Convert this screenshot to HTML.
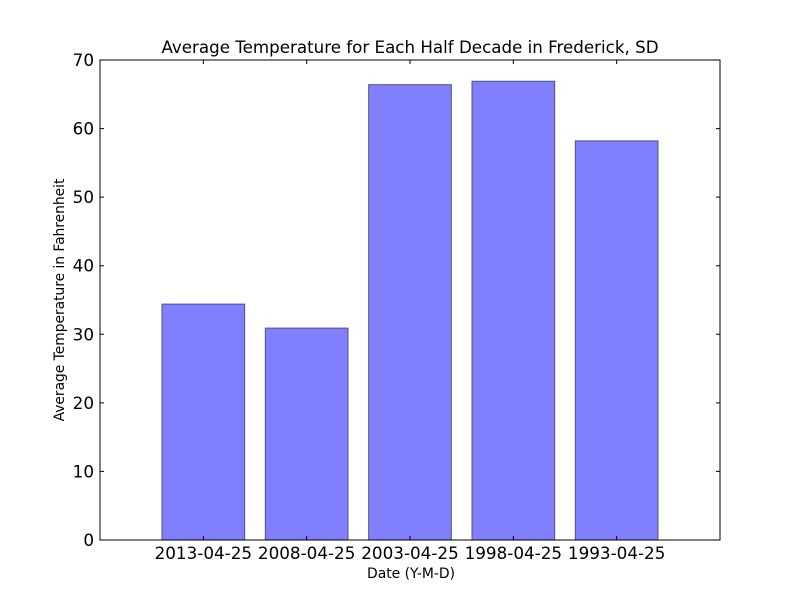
<!DOCTYPE html>
<html><head><meta charset="utf-8"><style>body{margin:0;background:#fff}svg{display:block}text{font-family:"DejaVu Sans","Liberation Sans",sans-serif}</style></head>
<body>
<svg id="chart" width="800" height="600">
<rect width="800" height="600" fill="#fff"/>
</svg>
<script>
const categories = ["2013-04-25","2008-04-25","2003-04-25","1998-04-25","1993-04-25"];
const values = [34.4, 30.9, 66.4, 66.9, 58.2];
const yTicks = [0,10,20,30,40,50,60,70];
const NS = "http://www.w3.org/2000/svg";
const svg = document.getElementById('chart');
const L=100,R=720,T=60,B=540;
const x = v => L + (v+1)/6*(R-L);
const y = v => B - v/70*(B-T);
function mk(tag, attrs, parent){const e=document.createElementNS(NS,tag);for(const k in attrs)e.setAttribute(k,attrs[k]);(parent||svg).appendChild(e);return e;}
categories.forEach((c,i)=>{
  const r=mk('rect',{x:x(i-0.4),y:y(values[i]),width:x(i+0.4)-x(i-0.4),height:B-y(values[i]),fill:'#8080ff',stroke:'#505080','stroke-width':1});
  
  
  const t=mk('text',{x:x(i),y:B+19,'font-size':16.8,'text-anchor':'middle'});
  t.textContent=c;
  
  
  const tk=mk('path',{d:`M${x(i)},${B}v-4M${x(i)},${T}v4`,stroke:'#000'});
  
  
});
yTicks.forEach(v=>{
  const tk=mk('path',{d:`M${L},${y(v)}h4M${R},${y(v)}h-4`,stroke:'#000'});
  
  
  const t=mk('text',{x:L-6,y:y(v)+6,'font-size':16.8,'text-anchor':'end'});
  t.textContent=v;
  
  
});
const fr=mk('rect',{x:L,y:T,width:R-L,height:B-T,fill:'none',stroke:'#000'});


const ti=mk('text',{x:410,y:53,'font-size':16.7,'text-anchor':'middle'});
ti.textContent='Average Temperature for Each Half Decade in Frederick, SD';


const xl=mk('text',{x:411,y:578,'font-size':13.9,'text-anchor':'middle'});
xl.textContent='Date (Y-M-D)';


const yl=mk('text',{x:64,y:300,'font-size':13.8,'text-anchor':'middle',transform:'rotate(-90 64 300)'});
yl.textContent='Average Temperature in Fahrenheit';


</script>
</body></html>
